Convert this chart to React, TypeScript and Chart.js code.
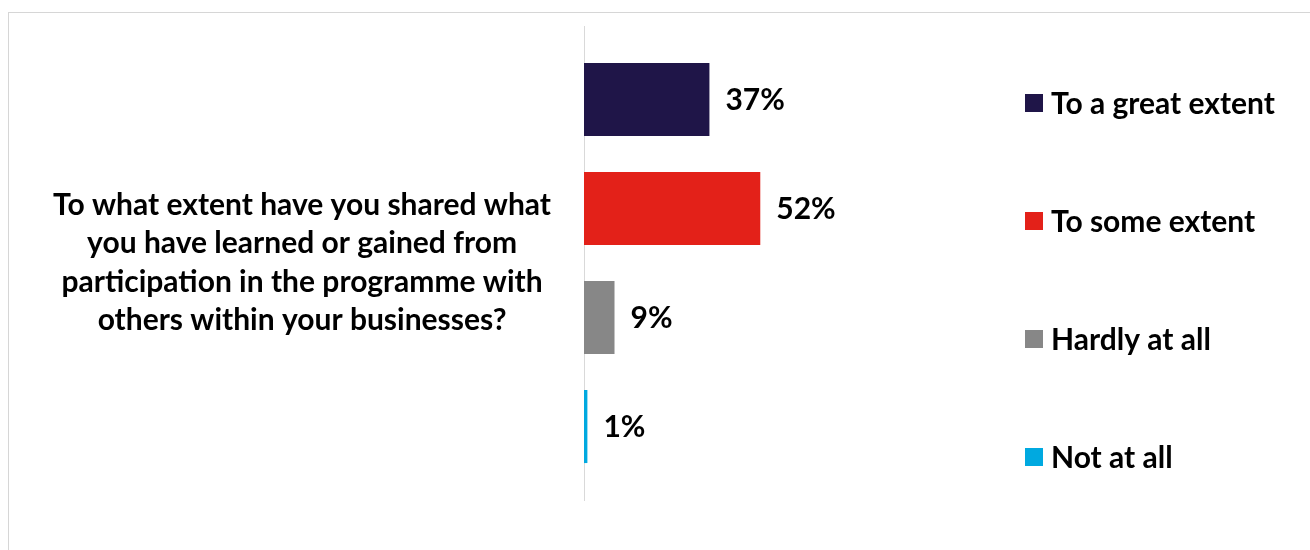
import React, { useEffect, useRef } from "react";
import { Chart, registerables } from "chart.js";

Chart.register(...registerables);

const categories: string[][] = [[
  "To what extent have you shared what",
  "you have learned or gained from",
  "participation in the programme with",
  "others within your businesses?",
]];
const seriesNames = ["To a great extent", "To some extent", "Hardly at all", "Not at all"];
const seriesValues = [37, 52, 9, 1];
const seriesColors = ["#1f1548", "#e32119", "#878787", "#00a9e0"];

const FONT = "Lato";
const FSIZE = 30;

const valueLabels = {
  id: "valueLabels",
  afterDatasetsDraw(chart: any) {
    const ctx = chart.ctx;
    ctx.save();
    ctx.font = `bold ${FSIZE}px ${FONT}`;
    ctx.fillStyle = "#000";
    ctx.textAlign = "left";
    ctx.textBaseline = "middle";
    chart.data.datasets.forEach((ds: any, i: number) => {
      const meta = chart.getDatasetMeta(i);
      meta.data.forEach((bar: any, j: number) => {
        ctx.fillText(`${ds.data[j]}%`, bar.x + 16, bar.y + 1);
      });
    });
    ctx.restore();
  },
};

const sideLegend = {
  id: "sideLegend",
  afterDraw(chart: any) {
    const ctx = chart.ctx;
    ctx.save();
    ctx.font = `bold ${FSIZE}px ${FONT}`;
    ctx.textAlign = "left";
    ctx.textBaseline = "middle";
    chart.data.datasets.forEach((ds: any, i: number) => {
      const cy = 103 + i * 118;
      ctx.fillStyle = ds.backgroundColor;
      ctx.fillRect(1025, cy - 9, 18, 18);
      ctx.fillStyle = "#000";
      ctx.fillText(ds.label, 1051, cy + 1);
    });
    ctx.restore();
  },
};

export default function App() {
  const ref = useRef<HTMLCanvasElement | null>(null);
  useEffect(() => {
    if (!ref.current) return;
    const chart = new Chart(ref.current, {
      type: "bar",
      data: {
        labels: categories as any,
        datasets: seriesNames.map((name, i) => ({
          label: name,
          data: [seriesValues[i]],
          backgroundColor: seriesColors[i],
          borderWidth: 0,
          categoryPercentage: 0.92,
          barPercentage: 0.67,
        })),
      },
      options: {
        indexAxis: "y",
        animation: false,
        responsive: false,
        layout: { padding: { top: 26, bottom: 50, left: 0, right: 387 } },
        plugins: {
          legend: { display: false },
          tooltip: { enabled: false },
          title: { display: false },
        },
        scales: {
          x: { display: false, min: 0, max: 100 },
          y: {
            grid: { display: false, drawTicks: false },
            border: { display: true, color: "#d9d9d9", width: 1 },
            ticks: {
              color: "#000",
              font: { family: FONT, size: FSIZE, weight: "bold", lineHeight: 1.28 },
              crossAlign: "center",
              padding: 33,
            },
            afterFit(scale: any) {
              scale.width = 584;
              scale.paddingTop = 0;
              scale.paddingBottom = 0;
            },
          },
        },
      } as any,
      plugins: [valueLabels, sideLegend],
    });
    return () => chart.destroy();
  }, []);
  return (
    <div style={{ position: "fixed", left: 0, top: 0, width: 1310, height: 550, background: "#fff", overflow: "hidden" }}>
      <div style={{ position: "absolute", left: 8, top: 12, width: 1320, height: 560, border: "1px solid #d6d6d6", boxSizing: "border-box" }} />
      <canvas ref={ref} width={1310} height={550} style={{ position: "absolute", left: 0, top: 0 }} />
    </div>
  );
}
